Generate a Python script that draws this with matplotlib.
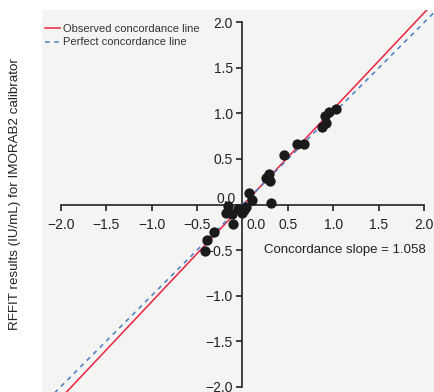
import numpy as np
import matplotlib.pyplot as plt
import matplotlib.transforms as mtransforms

plt.rcParams['font.family'] = ['Liberation Sans', 'DejaVu Sans']

# calibrator results (log scale), x vs y
x_vals = [1.03, 0.95, 0.905, 0.92, 0.88, 0.60, 0.68, 0.46, 0.29, 0.26, 0.30,
          0.07, 0.11, 0.31, -0.16, -0.18, -0.12, -0.10, -0.05, -0.01, 0.02,
          0.04, -0.31, -0.39, -0.41]
y_vals = [1.05, 1.01, 0.97, 0.90, 0.855, 0.66, 0.66, 0.54, 0.335, 0.295, 0.26,
          0.13, 0.05, 0.02, -0.02, -0.09, -0.10, -0.21, -0.05, -0.09, -0.06,
          -0.03, -0.30, -0.39, -0.51]

slope = 1.058
intercept = -0.01
ticks = [-2.0, -1.5, -1.0, -0.5, 0.0, 0.5, 1.0, 1.5, 2.0]
tick_labels = ['\u22122.0', '\u22121.5', '\u22121.0', '\u22120.5', '', '0.5', '1.0', '1.5', '2.0']

red = '#e8233f'
blue = '#4a7cc4'

fig = plt.figure(figsize=(4.35, 3.92), dpi=100)
ax = fig.add_axes([42 / 435, 0, 1 - 42 / 435, 382 / 392])
ax.set_facecolor('#f4f4f2')

xs = np.array([-2.5, 2.5])
ax.plot(xs, slope * xs + intercept, color=red, lw=1.1, zorder=3,
        label='Observed concordance line')
ax.plot(xs, xs, color=blue, lw=1.1, ls=(0, (3, 3)), zorder=3,
        label='Perfect concordance line')
ax.scatter(x_vals, y_vals, s=55, color='#1a1a1a', zorder=4, linewidths=0)

ax.set_xlim(-2.206, 2.118)
ax.set_ylim(-2.058, 2.135)

for side in ['top', 'right']:
    ax.spines[side].set_visible(False)
ax.spines['left'].set_position(('data', 0))
ax.spines['bottom'].set_position(('data', 0))
ax.spines['left'].set_bounds(-2, 2)
ax.spines['bottom'].set_bounds(-2, 2)
for side in ['left', 'bottom']:
    ax.spines[side].set_linewidth(1.2)
    ax.spines[side].set_color('#222222')
    ax.spines[side].set_zorder(2.5)

ax.set_xticks(ticks)
ax.set_yticks(ticks)
ax.set_xticklabels(tick_labels)
ax.set_yticklabels(tick_labels)
ax.tick_params(direction='out', length=4, width=1.2, color='#222222',
               labelsize=10, labelcolor='#222222')
ax.tick_params(axis='x', pad=6)
ax.tick_params(axis='y', pad=3)

# zero labels sit off the crossing point
shift_x = mtransforms.ScaledTranslation(14 / 100, 0, fig.dpi_scale_trans)
shift_y = mtransforms.ScaledTranslation(0, 6 / 100, fig.dpi_scale_trans)
ax.text(0, -0.23, '0.0', fontsize=10, color='#222222', ha='center', va='center',
        transform=ax.transData + shift_x)
ax.text(-0.07, 0, '0.0', fontsize=10, color='#222222', ha='right', va='center',
        transform=ax.transData + shift_y)

ax.text(0.236, -0.5, 'Concordance slope = 1.058', fontsize=9.5, color='#222222',
        ha='left', va='center')

ax.legend(loc='upper left', bbox_to_anchor=(-0.012, 0.985), frameon=False,
          fontsize=8, handlelength=1.3, handletextpad=0.35, labelspacing=0.35,
          borderaxespad=0.3, labelcolor='#333333')

fig.text(0.034, 0.505, 'RFFIT results (IU/mL) for IMORAB2 calibrator',
         rotation=90, fontsize=9.6, color='#222222', ha='center', va='center')

fig.savefig('out.png', dpi=100)
